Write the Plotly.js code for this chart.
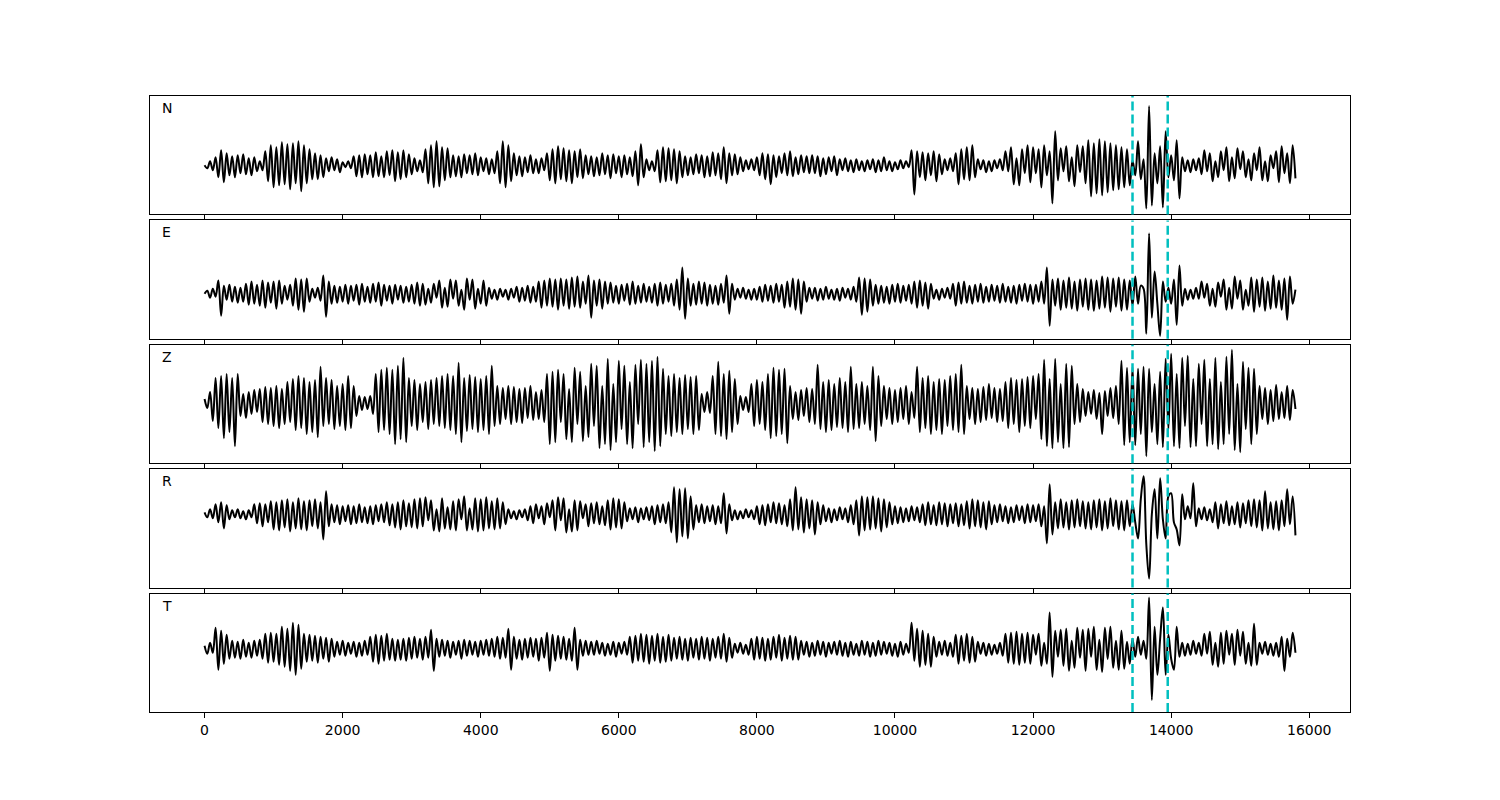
<!DOCTYPE html>
<html>
<head>
<meta charset="utf-8">
<script src="https://cdn.plot.ly/plotly-3.0.1.min.js"></script>
<style>html,body{margin:0;padding:0;background:#fff;}#chart{width:1500px;height:800px;}</style>
</head>
<body>
<div id="chart"></div>
<script>
// sample spacing (time units per value)
const DT = 40;
const channels = ["N", "E", "Z", "R", "T"];
const markerTimes = [13440, 13950];
const xTicks = [0, 2000, 4000, 6000, 8000, 10000, 12000, 14000, 16000];

const traceN = [
0,-3,4,-5,8,-12,15,-17,12,-10,9,-12,10,-8,11,-9,7,-10,8,-6,
4,-5,14,-16,20,-22,18,-20,23,-19,21,-24,22,-18,24,-26,20,-18,16,-14,
12,-14,10,-12,7,-6,8,-5,6,-7,3,-2,4,-3,9,-11,10,-12,11,-9,
10,-12,13,-11,9,-12,14,-10,15,-16,13,-14,15,-12,11,-9,7,-6,5,-7,
16,-18,20,-22,24,-21,18,-15,17,-12,10,-11,9,-12,11,-8,10,-9,12,-10,
8,-6,7,-9,6,-8,14,-18,24,-22,20,-16,12,-10,9,-11,8,-7,10,-8,
6,-8,7,-5,12,-15,16,-18,19,-14,17,-16,15,-18,14,-12,16,-13,10,-9,
9,-11,8,-10,12,-9,10,-13,11,-8,9,-12,10,-9,8,-11,14,-20,21,-12,
6,-5,4,-6,15,-17,18,-16,17,-15,16,-18,14,-12,9,-10,8,-9,11,-8,
10,-12,9,-11,13,-10,12,-14,18,-18,12,-10,11,-9,8,-6,5,-4,6,-5,
8,-10,12,-14,11,-19,10,-12,9,-8,12,-10,14,-11,8,-9,10,-7,9,-8,
10,-8,9,-11,7,-9,8,-6,9,-10,6,-5,7,-6,5,-7,6,-5,4,-6,
5,-4,6,-7,5,-6,8,-5,4,-6,3,-4,5,-3,4,-2,15,-29,14,-12,
13,-15,12,-10,14,-16,11,-9,6,-5,7,-6,12,-19,16,-14,18,-15,20,-12,
6,-4,5,-7,4,-6,5,-3,6,-5,14,-6,18,-19,7,-20,16,-8,20,-17,
18,-8,16,-22,20,-10,14,-38,34,-15,17,-6,19,-16,8,-21,20,-7,19,-18,
25,-31,22,-28,26,-30,24,-27,22,-25,20,-24,18,-22,16,-20,5,-10,24,-14,
6,-43,59,-40,12,-18,19,-42,34,-12,10,-15,25,-33,8,-6,5,-7,6,-5,
7,-9,15,-6,12,-16,4,-12,14,-5,18,-16,8,-13,17,-4,14,-12,6,-15,
12,-5,18,-15,4,-16,10,-3,14,-17,19,-8,12,-18,20,-13
];

const traceE = [
0,3,-4,5,-3,13,-22,8,-6,9,-8,7,-9,6,-8,10,-11,12,-10,9,
-12,13,-14,11,-9,12,-15,13,-10,8,-6,9,-12,15,-16,14,-18,15,-8,5,
-4,6,-7,18,-23,12,-10,8,-9,7,-8,9,-10,8,-7,9,-11,10,-8,7,
-9,10,-8,11,-12,9,-7,8,-10,9,-6,8,-9,7,-8,9,-10,11,-12,10,
-11,5,-9,10,-4,13,-14,6,-13,14,-5,13,-12,4,-16,15,-6,14,-15,5,
-10,13,-12,6,-5,4,-6,5,-3,4,-6,5,-4,7,-8,6,-7,8,-9,7,
-8,12,-14,13,-12,15,-13,14,-16,15,-12,14,-15,16,-13,17,-14,12,-10,18,
-24,13,-12,14,-15,12,-10,11,-9,8,-10,9,-7,10,-11,12,-10,8,-9,10,
-8,7,-9,10,-12,11,-10,9,-8,10,-12,14,-16,26,-25,15,-12,10,-11,12,
-10,11,-12,9,-10,8,-11,10,-9,18,-20,10,-6,5,-4,6,-5,4,-6,5,
-6,7,-8,9,-7,8,-9,10,-8,9,-14,12,-13,15,-16,14,-20,12,-8,6,
-5,6,-7,5,-6,7,-5,4,-6,5,-7,6,-4,5,-6,7,-8,16,-21,15,
-18,14,-12,9,-10,8,-9,7,-10,9,-8,10,-9,8,-7,9,-10,12,-14,13,
-12,11,-15,10,-5,4,-6,5,-4,6,-5,10,-12,11,-10,12,-9,8,-10,9,
-8,10,-9,7,-8,9,-7,8,-9,10,-8,7,-9,8,-10,9,-7,10,-8,9,
-10,9,-8,12,-10,26,-32,14,-12,15,-16,13,-14,16,-15,12,-17,14,-13,15,
-16,14,-17,13,-15,17,-14,16,-18,15,-13,16,-17,14,-16,13,-12,17,-10,8,
5,-40,60,-24,22,-10,-42,12,-8,6,-10,14,-31,28,-12,5,-6,4,-5,6,
-5,12,-4,10,-12,5,-13,11,-3,14,-16,6,-15,17,-5,13,-16,4,-12,16,
-18,14,-13,16,-17,12,-15,18,-14,13,-16,15,-26,17,-10,4
];

const traceZ = [
5,-4,12,-17,26,-24,28,-34,30,-28,26,-42,30,-12,10,-14,12,-10,14,-8,
15,-18,17,-20,16,-22,18,-24,15,-20,22,-18,25,-26,28,-24,26,-30,22,-28,
24,-33,37,-22,26,-20,24,-25,18,-22,20,-26,28,-24,18,-12,8,-6,7,-5,
8,-10,30,-28,34,-26,36,-30,34,-40,38,-35,46,-38,26,-22,24,-26,20,-18,
22,-25,24,-20,26,-22,28,-24,30,-26,28,-30,41,-38,26,-27,29,-25,27,-28,
25,-26,28,-30,38,-22,18,-20,16,-15,18,-20,17,-18,15,-19,16,-14,18,-16,
12,-15,14,-18,30,-40,32,-38,34,-18,30,-35,15,-38,36,-20,32,-37,18,-33,
40,-22,38,-44,18,-40,45,-46,20,-38,43,-25,38,-40,22,-44,39,-20,44,-43,
40,-38,43,-47,47,-42,35,-30,28,-32,30,-28,26,-30,29,-25,27,-30,28,-26,
10,-8,12,-9,28,-30,42,-32,30,-35,33,-28,25,-20,8,-6,7,-8,20,-22,
24,-20,22,-26,30,-34,36,-32,34,-30,35,-39,18,-15,12,-16,14,-12,16,-18,
15,-20,39,-25,22,-28,24,-26,20,-23,26,-24,22,-28,37,-25,20,-24,22,-20,
18,-26,37,-37,28,-22,18,-15,16,-20,14,-18,16,-15,18,-20,12,-14,37,-28,
26,-24,28,-30,22,-26,25,-30,24,-22,28,-26,30,-28,39,-30,18,-15,16,-20,
15,-18,17,-16,20,-14,16,-18,15,-17,22,-24,26,-20,24,-28,25,-22,27,-24,
28,-15,30,-35,44,-42,25,-44,45,-38,20,-44,40,-43,38,-20,20,-18,15,-12,
12,-10,14,-15,11,-30,13,-12,16,-14,18,-20,43,-41,36,-38,37,-41,35,-30,
37,-52,35,-28,20,-40,32,-43,45,-25,50,-42,30,-44,46,-22,48,-43,25,-42,
40,-20,44,-42,25,-40,46,-45,22,-40,47,-30,54,-46,20,-48,42,-25,36,-40,
35,-30,18,-15,16,-20,14,-17,19,-15,12,-14,18,-16,14,-5
];

const traceR = [
2,-3,5,-4,10,-8,12,-14,9,-5,4,-3,5,-4,3,-5,4,-3,10,-9,
11,-12,10,-8,13,-15,12,-16,14,-13,15,-17,12,-14,16,-15,13,-16,14,-12,
15,-14,12,-25,23,-12,10,-8,9,-10,8,-7,9,-10,8,-9,10,-8,7,-9,
8,-10,9,-7,10,-8,12,-11,10,-13,12,-15,14,-12,11,-13,15,-14,16,-12,
17,-6,14,-16,5,-17,16,-14,7,-15,13,-16,15,-5,18,-16,6,-15,16,-17,
15,-16,17,-14,13,-15,16,-14,12,-10,5,-4,3,-5,4,-3,5,-6,8,-9,
10,-4,8,-10,11,-3,14,-16,17,-6,16,-18,5,-17,14,-16,13,-4,10,-12,
11,-9,12,-10,8,-11,14,-15,16,-13,15,-14,12,-7,6,-5,7,-8,6,-5,
7,-6,8,-10,9,-8,10,-9,12,-18,27,-28,25,-22,26,-24,18,-15,9,-8,
10,-9,8,-7,9,-10,8,-9,21,-19,10,-6,4,-5,3,-4,5,-3,4,-5,
8,-10,9,-11,10,-8,12,-9,11,-10,9,-12,15,-16,27,-15,17,-18,15,-14,
14,-20,12,-10,9,-7,6,-8,5,-6,7,-5,6,-8,9,-10,14,-21,18,-16,
17,-15,18,-14,16,-17,15,-13,12,-10,8,-9,7,-8,6,-7,8,-6,7,-8,
10,-11,12,-10,9,-11,12,-10,11,-12,10,-9,11,-12,10,-11,13,-14,15,-12,
14,-13,12,-15,13,-10,9,-8,10,-7,8,-9,7,-8,9,-6,8,-9,10,-8,
9,-7,10,-12,8,-29,30,-20,12,-14,15,-13,12,-15,14,-13,15,-12,13,-14,
12,-15,14,-13,15,-16,13,-14,16,-12,14,-15,13,-16,14,-12,10,-8,-24,15,
38,-30,-64,0,25,-24,36,-5,-24,18,21,-8,-15,-31,20,-5,8,-4,31,-12,
6,-5,7,-6,5,-8,12,-14,10,-9,13,-11,8,-10,12,-13,11,-9,14,-12,
15,-13,14,-16,23,-14,12,-15,13,-16,14,-12,25,-10,18,-21
];

const traceT = [
3,-5,6,-4,21,-21,18,-15,14,-10,8,-9,7,-10,9,-8,6,-9,8,-7,
9,-10,15,-14,16,-13,15,-16,22,-18,20,-22,26,-26,24,-20,15,-13,14,-12,
13,-14,12,-10,11,-13,10,-8,7,-6,8,-7,6,-5,7,-8,6,-7,8,-6,
12,-13,14,-15,13,-12,15,-11,10,-12,9,-11,10,-12,11,-10,12,-9,10,-11,
12,-9,19,-22,10,-8,9,-7,8,-9,7,-6,8,-10,9,-7,8,-6,7,-8,
8,-6,9,-7,10,-8,12,-10,11,-9,20,-21,12,-10,9,-11,10,-9,11,-8,
10,-12,11,-9,16,-22,14,-12,13,-10,12,-11,10,-12,21,-21,9,-7,8,-6,
7,-6,8,-5,6,-7,5,-6,7,-8,6,-5,7,-6,12,-14,13,-12,15,-13,
14,-15,13,-12,15,-14,12,-13,14,-12,11,-10,12,-11,10,-12,11,-9,10,-11,
12,-10,11,-12,10,-9,12,-10,15,-13,11,-9,5,-4,6,-5,4,-6,10,-11,
12,-10,11,-12,10,-11,12,-9,14,-12,11,-10,13,-11,12,-11,8,-6,7,-8,
6,-7,8,-6,7,-8,6,-5,7,-6,8,-7,6,-8,7,-6,5,-7,8,-6,
7,-8,6,-7,8,-6,7,-5,6,-7,5,-8,7,-6,5,-4,26,-12,20,-18,
18,-16,15,-18,12,-8,7,-6,8,-7,6,-8,14,-15,13,-12,15,-14,12,-13,
7,-5,6,-7,5,-6,4,-5,6,-7,15,-14,16,-15,17,-16,15,-14,16,-15,
14,-6,15,-17,6,-15,36,-28,18,-8,19,-17,20,-22,8,-19,21,-9,19,-22,
20,-8,22,-21,9,-23,21,-10,22,-19,8,-21,18,-20,7,-15,10,-8,12,-6,
8,-10,51,-51,22,-26,10,41,-26,14,-10,-21,22,-8,6,-7,5,-6,8,-5,
6,-7,15,-5,17,-16,6,-18,16,-15,18,-6,15,-16,19,-7,17,-15,6,-17,
25,-16,6,-5,7,-6,5,-7,6,-8,12,-22,10,-8,16,-4
];

const allTraces = [traceN, traceE, traceZ, traceR, traceT];
// panel y ranges (lower, upper), in trace units
const yRanges = [[-49, 69], [-45, 73], [-59, 59], [-73, 45], [-63, 55]];
const domains = [[0.80769, 1], [0.60577, 0.79808], [0.40385, 0.59615], [0.20192, 0.39423], [0, 0.19231]];

const data = [];
const layout = {
  width: 1500, height: 800,
  margin: {l: 150, r: 150, t: 96, b: 88},
  paper_bgcolor: "#ffffff", plot_bgcolor: "#ffffff",
  showlegend: false,
  font: {family: "DejaVu Sans, sans-serif", size: 14, color: "#000"},
  shapes: [], annotations: []
};

allTraces.forEach((vals, i) => {
  const n = i + 1;
  const xs = vals.map((_, k) => k * DT);
  const xa = n === 1 ? "x" : "x" + n;
  const ya = n === 1 ? "y" : "y" + n;
  data.push({
    type: "scatter", mode: "lines", x: xs, y: vals,
    xaxis: xa, yaxis: ya,
    line: {color: "#000000", width: 2, shape: "spline", smoothing: 1},
    hoverinfo: "skip"
  });
  const xKey = n === 1 ? "xaxis" : "xaxis" + n;
  const yKey = n === 1 ? "yaxis" : "yaxis" + n;
  layout[xKey] = {
    anchor: ya, range: [-790, 16590],
    showline: true, mirror: true, linecolor: "#000", linewidth: 1,
    ticks: "outside", ticklen: 5, tickwidth: 1, tickcolor: "#000",
    tickmode: "array", tickvals: xTicks, ticktext: xTicks.map(String),
    showticklabels: n === 5, showgrid: false, zeroline: false,
    tickfont: {family: "DejaVu Sans, sans-serif", size: 14, color: "#000"}
  };
  if (n > 1) layout[xKey].matches = "x";
  layout[yKey] = {
    anchor: xa, domain: domains[i], range: yRanges[i],
    showline: true, mirror: true, linecolor: "#000", linewidth: 1,
    ticks: "", showticklabels: false, showgrid: false, zeroline: false
  };
  markerTimes.forEach(t => {
    layout.shapes.push({
      type: "line", xref: xa, yref: ya + " domain",
      x0: t, x1: t, y0: 0, y1: 1, layer: "above",
      line: {color: "#00bfbf", width: 2.5, dash: "9px,4px"}
    });
  });
  layout.annotations.push({
    text: channels[i], xref: "paper", yref: ya + " domain",
    x: 0.0085, y: 1, xanchor: "left", yanchor: "middle", yshift: -12,
    showarrow: false, font: {family: "DejaVu Sans, sans-serif", size: 14, color: "#000"}
  });
});

Plotly.newPlot("chart", data, layout, {staticPlot: true, displayModeBar: false});
</script>
</body>
</html>
